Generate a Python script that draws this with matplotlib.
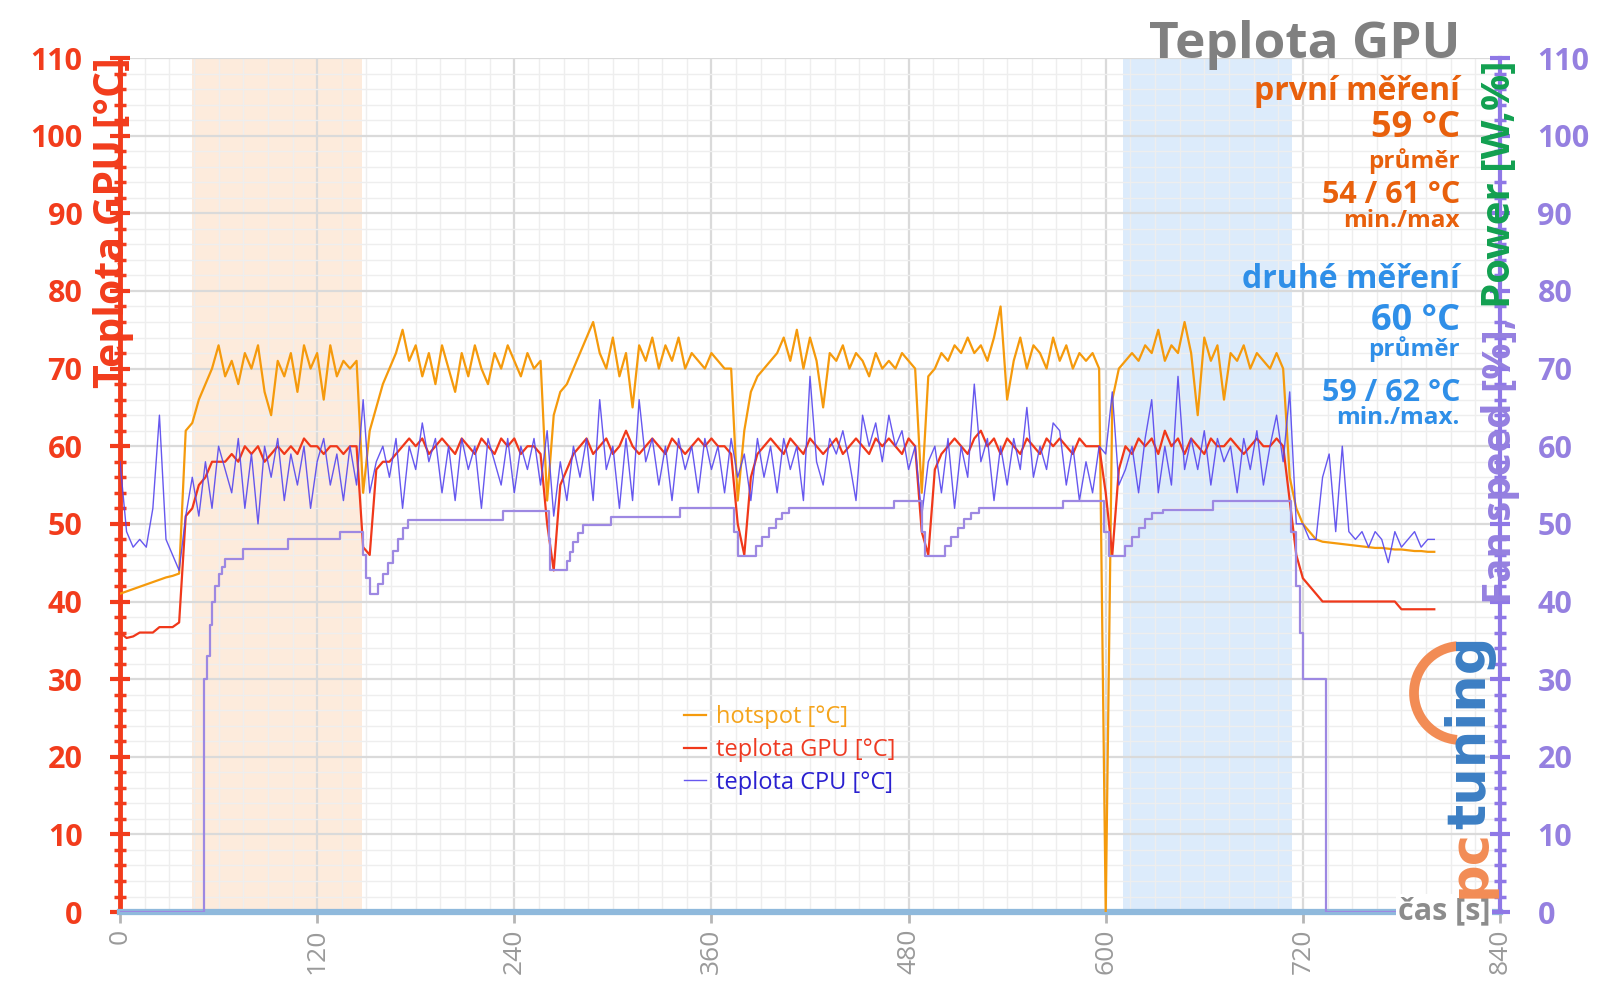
import numpy as np
import matplotlib
matplotlib.use('Agg')
import matplotlib.pyplot as plt
from matplotlib.ticker import MultipleLocator
from matplotlib.patches import Arc

plt.rcParams['font.family'] = ['Open Sans', 'DejaVu Sans']

# samples every 4 s
step = 4

hotspot = [
    41.0, 41.3, 41.6, 41.9, 42.2, 42.5, 42.8, 43.1, 43.3, 43.6,
    62, 63, 66, 68, 70, 73, 69, 71, 68, 72,
    70, 73, 67, 64, 71, 69, 72, 67, 73, 70,
    72, 66, 73, 69, 71, 70, 71, 54, 62, 65,
    68, 70, 72, 75, 71, 73, 69, 72, 68, 73,
    70, 67, 72, 69, 73, 70, 68, 72, 70, 73,
    71, 69, 72, 70, 71, 53, 64, 67, 68, 70,
    72, 74, 76, 72, 70, 74, 69, 72, 65, 73,
    71, 74, 70, 73, 71, 74, 70, 72, 71, 70,
    72, 71, 70, 70, 53, 62, 67, 69, 70, 71,
    72, 74, 71, 75, 70, 74, 71, 65, 72, 71,
    73, 70, 72, 71, 69, 72, 70, 71, 70, 72,
    71, 70, 54, 69, 70, 72, 71, 73, 72, 74,
    72, 73, 71, 74, 78, 66, 71, 74, 70, 73,
    72, 70, 74, 71, 73, 70, 72, 71, 72, 70,
    0, 66, 70, 71, 72, 71, 73, 72, 75, 71,
    73, 72, 76, 72, 64, 74, 71, 73, 66, 72,
    71, 73, 70, 72, 71, 70, 72, 70, 56, 52,
    50, 49, 48, 47.7, 47.6, 47.5, 47.4, 47.3, 47.2, 47.1,
    47.0, 46.9, 46.9, 46.8, 46.7, 46.7, 46.6, 46.5, 46.5, 46.4,
    46.4,
]

gpu = [
    36, 35.3, 35.5, 36, 36, 36, 36.7, 36.7, 36.7, 37.3,
    51, 52, 55, 56, 58, 58, 58, 59, 58, 60,
    59, 60, 58, 59, 60, 59, 60, 59, 61, 60,
    60, 59, 60, 60, 59, 60, 60, 47, 46, 57,
    58, 58, 59, 60, 61, 60, 61, 59, 60, 61,
    60, 59, 61, 60, 59, 61, 60, 59, 61, 60,
    61, 59, 60, 60, 59, 50, 44, 55, 57, 59,
    60, 61, 59, 60, 61, 59, 60, 62, 60, 59,
    60, 61, 60, 59, 61, 60, 59, 60, 61, 60,
    61, 60, 60, 59, 50, 46, 56, 59, 60, 61,
    60, 59, 61, 60, 59, 61, 60, 59, 60, 61,
    59, 60, 61, 60, 59, 61, 60, 61, 60, 59,
    61, 60, 49, 46, 57, 59, 60, 61, 60, 59,
    61, 62, 60, 61, 59, 61, 60, 59, 61, 60,
    59, 61, 60, 61, 60, 59, 61, 60, 60, 60,
    54, 46, 57, 60, 59, 61, 60, 61, 59, 62,
    60, 61, 59, 61, 60, 59, 61, 60, 60, 61,
    60, 59, 60, 61, 60, 60, 61, 60, 53, 46,
    43, 42, 41, 40, 40, 40, 40, 40, 40, 40,
    40, 40, 40, 40, 40, 39, 39, 39, 39, 39,
    39,
]

cpu = [
    58, 49, 47, 48, 47, 52, 64, 48, 46, 44,
    51, 56, 51, 58, 52, 60, 57, 54, 61, 52,
    59, 50, 60, 56, 61, 53, 59, 55, 60, 52,
    58, 61, 55, 59, 53, 60, 55, 66, 54, 58,
    60, 56, 61, 52, 60, 57, 63, 58, 61, 54,
    60, 53, 61, 57, 60, 52, 61, 58, 55, 61,
    54, 60, 57, 61, 55, 62, 51, 58, 53, 60,
    56, 61, 53, 66, 57, 60, 52, 61, 53, 66,
    58, 61, 55, 60, 53, 61, 57, 60, 54, 61,
    57, 60, 54, 61, 56, 59, 53, 61, 56, 60,
    54, 61, 57, 60, 53, 69, 58, 55, 61, 59,
    62, 58, 53, 64, 60, 63, 58, 64, 60, 62,
    57, 60, 51, 58, 60, 54, 61, 52, 60, 56,
    68, 58, 61, 53, 60, 55, 61, 57, 65, 56,
    60, 57, 63, 62, 55, 60, 53, 58, 54, 60,
    59, 67, 55, 57, 60, 54, 61, 66, 54, 60,
    55, 69, 57, 61, 57, 62, 55, 61, 58, 60,
    54, 61, 57, 62, 55, 60, 64, 58, 67, 50,
    50, 48, 48, 56, 59, 49, 60, 49, 48, 49,
    47, 49, 48, 45, 49, 47, 48, 49, 47, 48,
    48,
]

# fan speed: time where each level starts
fan_t = [0, 51, 53, 54.5, 56, 58, 60, 62, 64, 75, 102, 134, 148, 150, 152,
         157, 160, 163, 166, 169, 172, 175, 233, 261, 262, 272, 274, 276, 279,
         282, 299, 341, 374, 376, 387, 391, 395, 399, 403, 407, 471, 488, 490,
         502, 506, 510, 514, 518, 523, 574, 599, 602, 612, 616, 620, 624, 628,
         635, 665, 713, 716, 718, 720, 734, 800]
fan_v = [0, 30, 33, 37, 40, 42, 43.5, 44.5, 45.5, 46.8, 48, 49, 46, 43, 41,
         42.2, 43.5, 45, 46.5, 48, 49.5, 50.5, 51.6, 48, 44, 45.2, 46.4, 47.6, 48.8,
         49.8, 50.9, 52, 49, 45.9, 47.1, 48.3, 49.5, 50.6, 51.4, 52, 53, 49, 45.9,
         47.1, 48.3, 49.5, 50.6, 51.4, 52, 53, 49, 45.9, 47.1, 48.3, 49.5, 50.6, 51.4,
         51.8, 52.9, 49, 42, 36, 30, 0, 0]

run1 = (43.6, 147)
run2 = (610.7, 713.5)

c_red = '#f23c1c'
c_purple = '#9580e0'
c_orange = '#e8600c'
c_blue = '#2f8fe8'

t_hot = np.arange(len(hotspot)) * step
t_gpu = np.arange(len(gpu)) * step
t_cpu = np.arange(len(cpu)) * step

fig = plt.figure(figsize=(16, 10.08), dpi=100)
ax = fig.add_axes([0.075, 0.0952, 0.8625, 0.8472])
ax.set_xlim(0, 840)
ax.set_ylim(0, 110)

ax.axvspan(run1[0], run1[1], color='#fdebdc', zorder=0, lw=0)
ax.axvspan(run2[0], run2[1], color='#dcebfb', zorder=0, lw=0)

ax.set_xticks(range(0, 841, 120))
ax.xaxis.set_minor_locator(MultipleLocator(15))
ax.set_yticks(range(0, 111, 10))
ax.yaxis.set_minor_locator(MultipleLocator(2))
ax.set_axisbelow(True)
ax.grid(which='major', color='#dadada', lw=1.6)
ax.grid(which='minor', color='#eeeeee', lw=1.0)

ax.plot(t_hot, hotspot, color='#f59a0c', lw=1.6, label='hotspot [°C]', zorder=3)
ax.plot(t_gpu, gpu, color='#f0381a', lw=1.6, label='teplota GPU [°C]', zorder=4)
ax.plot(t_cpu, cpu, color='#5646ee', lw=1.0, alpha=0.9, label='teplota CPU [°C]', zorder=5)

for s in ['top', 'right']:
    ax.spines[s].set_visible(False)
ax.spines['left'].set_color(c_red)
ax.spines['left'].set_linewidth(3.5)
ax.spines['bottom'].set_color('#8fb9dc')
ax.spines['bottom'].set_linewidth(4.5)

ax.tick_params(axis='y', which='major', direction='inout', length=14, width=3,
               color=c_red, labelcolor=c_red, labelsize=22, pad=20)
ax.tick_params(axis='y', which='minor', direction='inout', length=8, width=2.5, color=c_red)
ax.tick_params(axis='x', which='major', direction='out', length=8, width=2,
               color='#b5b5b5', labelcolor='#9a9a9a', labelsize=19, labelrotation=90, pad=4)
ax.tick_params(axis='x', which='minor', length=0)
for lab in ax.get_yticklabels():
    lab.set_fontweight('bold')

ax2 = ax.twinx()
ax2.set_ylim(0, 110)
ax2.plot(fan_t, fan_v, color='#9d88e2', lw=1.6, drawstyle='steps-post', zorder=2)
ax2.set_yticks(range(0, 111, 10))
ax2.yaxis.set_minor_locator(MultipleLocator(2))
for s in ['top', 'left', 'bottom']:
    ax2.spines[s].set_visible(False)
ax2.spines['right'].set_color('#8f78e6')
ax2.spines['right'].set_linewidth(3)
ax2.tick_params(axis='y', which='major', direction='inout', length=14, width=3,
                color='#8f78e6', labelcolor=c_purple, labelsize=22, pad=20)
ax2.tick_params(axis='y', which='minor', direction='inout', length=8, width=2.5, color='#8f78e6')
for lab in ax2.get_yticklabels():
    lab.set_fontweight('bold')

leg = ax.legend(loc='upper left', bbox_to_anchor=(672 / 1600, 1 - 693 / 1008),
                bbox_transform=fig.transFigure, frameon=False, fontsize=17,
                handlelength=0.95, handletextpad=0.4, labelspacing=0.38, borderpad=0)
for txt, col in zip(leg.get_texts(), ['#f5a41c', '#ee3a22', '#2a20d0']):
    txt.set_color(col)


def fx(px):
    return px / 1600


def fy(py):
    return 1 - py / 1008


# axis titles
fig.text(fx(114), fy(57), 'Teplota GPU [°C]', rotation=90, ha='center', va='top',
         color=c_red, fontsize=29.5, fontweight='bold')
t_pow = fig.text(fx(1500), fy(60), 'Power [W,%]', rotation=90, ha='center', va='top',
                 color='#12a050', fontsize=29, fontweight='bold')
fig.canvas.draw()
bb = t_pow.get_window_extent()
fig.text(fx(1500), bb.y0 / fig.bbox.height, 'Fan speed [%], ', rotation=90, ha='center',
         va='top', color=c_purple, fontsize=29, fontweight='bold')

fig.text(fx(1490), fy(911), 'čas [s]', ha='right', va='center', color='#8c8c8c',
         fontsize=22, fontweight='bold', bbox=dict(fc='white', ec='none', pad=1))

# title and summary block
fig.text(fx(1460), fy(45), 'Teplota GPU', ha='right', va='center', color='#808080',
         fontsize=37, fontweight='bold')
block = [
    ('první měření', 91, 23, c_orange),
    ('59 °C', 128, 26, c_orange),
    ('průměr', 161, 17.5, c_orange),
    ('54 / 61 °C', 195, 22, c_orange),
    ('min./max', 221, 17.5, c_orange),
    ('druhé měření', 280, 23, c_blue),
    ('60 °C', 321, 26, c_blue),
    ('průměr', 349, 17.5, c_blue),
    ('59 / 62 °C', 393, 22, c_blue),
    ('min./max.', 418, 17.5, c_blue),
]
for s, y, size, col in block:
    fig.text(fx(1460), fy(y), s, ha='right', va='center', color=col,
             fontsize=size, fontweight='bold')

# pctuning watermark
fig.add_artist(Arc((14.61, 10.08 - 6.93), 0.94, 0.94, theta1=95, theta2=265,
                   transform=fig.dpi_scale_trans, color='#f28c55', lw=7))
t_pc = fig.text(fx(1470), fy(898), 'pc', rotation=90, ha='center', va='bottom',
                color='#f28c55', fontsize=38, fontweight='bold', family='DejaVu Sans')
fig.canvas.draw()
bb = t_pc.get_window_extent()
fig.text(fx(1470), bb.y1 / fig.bbox.height, 'tuning', rotation=90, ha='center', va='bottom',
         color='#3c7fc4', fontsize=38, fontweight='bold', family='DejaVu Sans')

fig.savefig('out.png', dpi=100, facecolor='white')
